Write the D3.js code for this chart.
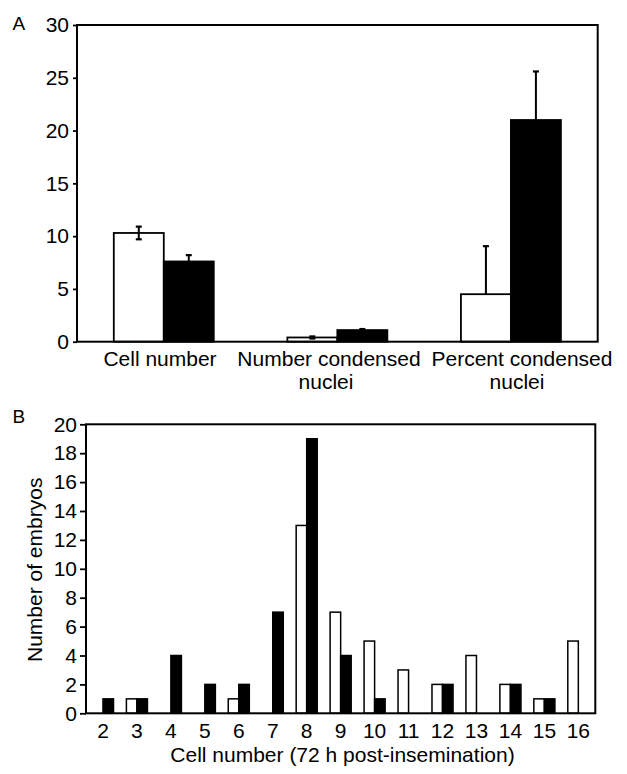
<!DOCTYPE html>
<html>
<head>
<meta charset="utf-8">
<script src="https://cdn.jsdelivr.net/npm/d3@7"></script>
<style>
  html, body { margin: 0; padding: 0; background: #fff; }
  svg text { font-family: "Liberation Sans", Arial, Helvetica, sans-serif; fill: #000; }
</style>
</head>
<body>
<svg id="chart" width="627" height="774"></svg>
<script>
// ---------- Panel A data ----------
const categoriesA = ["Cell number", "Number condensed nuclei", "Percent condensed nuclei"];
const seriesNames = ["white", "black"];
const whiteA = [10.3, 0.4, 4.5];
const blackA = [7.6, 1.1, 21.0];
const whiteErrUp = [0.6, 0.1, 4.55];
const whiteErrDown = [0.6, 0.1, 0];
const blackErrUp = [0.6, 0.1, 4.6];
const ticksA = [0, 5, 10, 15, 20, 25, 30];

// ---------- Panel B data ----------
const categoriesB = ["2", "3", "4", "5", "6", "7", "8", "9", "10", "11", "12", "13", "14", "15", "16"];
const whiteB = [0, 1, 0, 0, 1, 0, 13, 7, 5, 3, 2, 4, 2, 1, 5];
const blackB = [1, 1, 4, 2, 2, 7, 19, 4, 1, 0, 2, 0, 2, 1, 0];
const ticksB = [0, 2, 4, 6, 8, 10, 12, 14, 16, 18, 20];

const svg = d3.select("#chart");
const FS = 21;
const FF = "'Liberation Sans', Arial, Helvetica, sans-serif";
const fill = { white: "#fff", black: "#000" };

// ================= PANEL A =================
const A = { left: 77, right: 597.7, top: 25, bottom: 341.7 };
const xA = d3.scaleBand().domain(categoriesA).range([A.left, A.right])
  .paddingInner(0.424).paddingOuter(0.212);
const xAs = d3.scaleBand().domain(seriesNames).range([0, xA.bandwidth()]);
const yA = d3.scaleLinear().domain([0, 30]).range([A.bottom, A.top]);
// label anchor positions for the category texts
const xALabel = d3.scaleOrdinal().domain(categoriesA).range([160, 329, 522]);

const gA = svg.append("g");
const dataA = categoriesA.map((c, i) => ([
  { c, s: "white", v: whiteA[i], up: whiteErrUp[i], down: whiteErrDown[i] },
  { c, s: "black", v: blackA[i], up: blackErrUp[i], down: 0 }
])).flat();

gA.selectAll("rect.bar").data(dataA).join("rect")
  .attr("class", "bar")
  .attr("x", d => xA(d.c) + xAs(d.s))
  .attr("width", xAs.bandwidth())
  .attr("y", d => yA(d.v))
  .attr("height", d => yA(0) - yA(d.v))
  .attr("fill", d => fill[d.s])
  .attr("stroke", "#000").attr("stroke-width", 1.8);

// error bars
const errA = gA.selectAll("g.err").data(dataA).join("g").attr("class", "err")
  .attr("transform", d => `translate(${xA(d.c) + xAs(d.s) + xAs.bandwidth() / 2},0)`);
errA.append("line")
  .attr("y1", d => yA(d.v - d.down)).attr("y2", d => yA(d.v + d.up))
  .attr("stroke", "#000").attr("stroke-width", 2);
errA.append("line")
  .attr("x1", -3).attr("x2", 3)
  .attr("y1", d => yA(d.v + d.up)).attr("y2", d => yA(d.v + d.up))
  .attr("stroke", "#000").attr("stroke-width", 2.2);
errA.filter(d => d.down > 0).append("line")
  .attr("x1", -3).attr("x2", 3)
  .attr("y1", d => yA(d.v - d.down)).attr("y2", d => yA(d.v - d.down))
  .attr("stroke", "#000").attr("stroke-width", 2.2);

// y axis
const axA = gA.append("g").attr("transform", `translate(${A.left},0)`)
  .call(d3.axisLeft(yA).tickValues(ticksA).tickSize(4).tickPadding(4));
axA.select(".domain").remove();
axA.selectAll("line").attr("stroke", "#000").attr("stroke-width", 1.8);
axA.selectAll("text").attr("font-size", FS).style("font-family", FF).attr("fill", "#000");

// x labels (two-line)
const lab = gA.append("g").attr("transform", `translate(0,${A.bottom})`);
lab.selectAll("text").data(categoriesA).join("text")
  .attr("text-anchor", "middle").attr("font-size", FS).style("font-family", FF)
  .each(function (d) {
    const t = d3.select(this);
    const lines = d.replace(" nuclei", "\nnuclei").split("\n");
    lines.forEach((ln, i) => {
      t.append("tspan").attr("x", xALabel(d) - (i > 0 && d.startsWith("Percent") ? 5 : i > 0 ? 3 : 0))
        .attr("y", 24.5 + i * 22.5).text(ln);
    });
  });

// frame
gA.append("rect").attr("x", A.left).attr("y", A.top)
  .attr("width", A.right - A.left).attr("height", A.bottom - A.top)
  .attr("fill", "none").attr("stroke", "#000").attr("stroke-width", 2);

svg.append("text").attr("x", 12.5).attr("y", 30).attr("font-size", 19).style("font-family", FF).text("A");

// ================= PANEL B =================
const B = { left: 86, right: 595.3, top: 424.3, bottom: 713.3 };
const xB = d3.scaleBand().domain(categoriesB).range([B.left, B.right]).padding(0);
const yB = d3.scaleLinear().domain([0, 20]).range([B.bottom, B.top]);
const barW = xB.bandwidth() * 0.31;

const gB = svg.append("g");
const dataB = categoriesB.map((c, i) => ([
  { c, s: "white", v: whiteB[i] },
  { c, s: "black", v: blackB[i] }
])).flat().filter(d => d.v > 0);

gB.selectAll("rect.bar").data(dataB).join("rect")
  .attr("class", "bar")
  .attr("x", d => xB(d.c) + xB.bandwidth() / 2 + (d.s === "white" ? -barW : 0))
  .attr("width", barW)
  .attr("y", d => yB(d.v))
  .attr("height", d => yB(0) - yB(d.v))
  .attr("fill", d => fill[d.s])
  .attr("stroke", "#000").attr("stroke-width", 1.5);

const axBy = gB.append("g").attr("transform", `translate(${B.left},0)`)
  .call(d3.axisLeft(yB).tickValues(ticksB).tickSize(6).tickPadding(3));
axBy.select(".domain").remove();
axBy.selectAll("line").attr("stroke", "#000").attr("stroke-width", 1.8);
axBy.selectAll("text").attr("font-size", FS).style("font-family", FF).attr("fill", "#000");

const axBx = gB.append("g").attr("transform", `translate(0,${B.bottom})`)
  .call(d3.axisBottom(xB).tickSize(0).tickPadding(10));
axBx.select(".domain").remove();
axBx.selectAll("text").attr("font-size", FS).style("font-family", FF).attr("fill", "#000");

gB.append("rect").attr("x", B.left).attr("y", B.top)
  .attr("width", B.right - B.left).attr("height", B.bottom - B.top)
  .attr("fill", "none").attr("stroke", "#000").attr("stroke-width", 2);

svg.append("text").attr("x", 12.5).attr("y", 423).attr("font-size", 19).style("font-family", FF).text("B");

svg.append("text")
  .attr("x", 342.5).attr("y", 761.5)
  .attr("text-anchor", "middle").attr("font-size", FS).style("font-family", FF)
  .text("Cell number (72 h post-insemination)");

svg.append("text")
  .attr("transform", `translate(42,${(B.top + B.bottom) / 2 + 1}) rotate(-90)`)
  .attr("text-anchor", "middle").attr("font-size", FS).style("font-family", FF)
  .text("Number of embryos");
</script>
</body>
</html>
